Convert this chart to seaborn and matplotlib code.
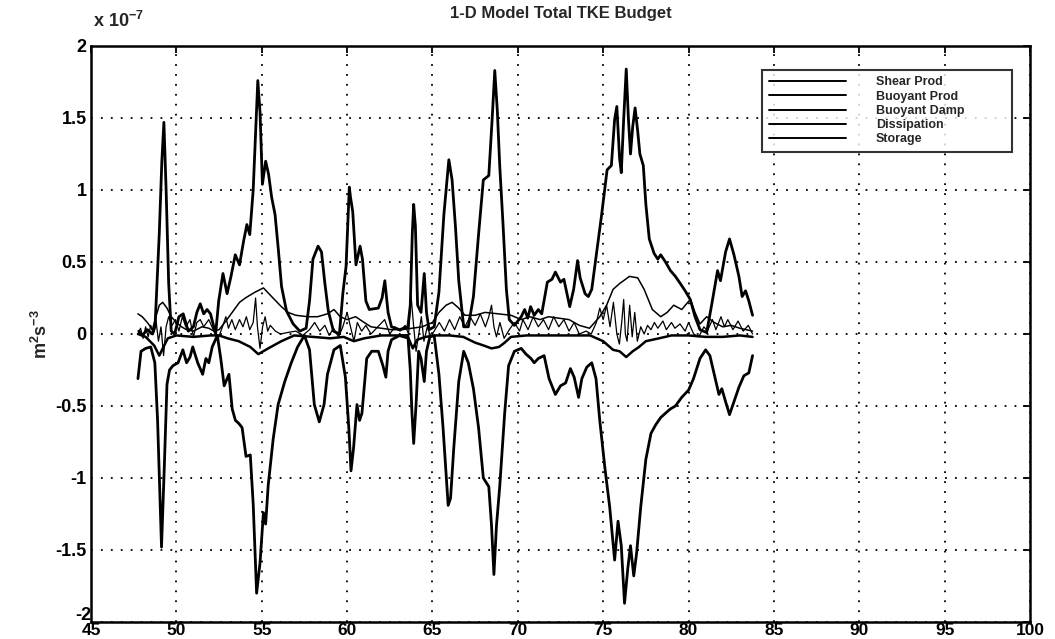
import numpy as np
import pandas as pd
import matplotlib
matplotlib.use("Agg")
import matplotlib.pyplot as plt
import matplotlib.transforms as mtransforms
import seaborn as sns

# Values in units of 1e-7 m^2 s^-3, time in the x units of the run
shear_x = [47.8, 48.0, 48.3, 48.6, 48.75, 49.0, 49.15, 49.27, 49.4, 49.55, 49.7, 49.9, 50.15, 50.4,
           50.7, 51.0, 51.2, 51.4, 51.6, 51.8, 52.0, 52.3, 52.48, 52.73, 52.97, 53.2, 53.45, 53.7,
           53.93, 54.13, 54.3, 54.5, 54.65, 54.77, 54.9, 55.04, 55.23, 55.4, 55.58, 55.78, 55.97,
           56.16, 56.45, 56.84, 57.23, 57.6, 57.8, 58.0, 58.3, 58.5, 58.7, 58.9, 59.2, 59.55, 59.75,
           59.94, 60.13, 60.2, 60.33, 60.52, 60.76, 60.9, 61.1, 61.3, 61.83, 62.05, 62.21, 62.4,
           62.6, 63.08, 63.56, 63.7, 63.82, 63.9, 64.0, 64.13, 64.33, 64.52, 64.65, 64.8, 65.1,
           65.38, 65.67, 65.96, 66.15, 66.35, 66.54, 66.83, 67.1, 67.4, 67.7, 67.98, 68.3, 68.5,
           68.65, 68.8, 68.94, 69.13, 69.33, 69.5, 69.8, 70.2, 70.4, 70.58, 70.75, 70.96, 71.2,
           71.4, 71.73, 72.0, 72.2, 72.5, 72.7, 73.04, 73.27, 73.5, 73.65, 73.94, 74.13, 74.33,
           74.6, 74.9, 75.23, 75.48, 75.67, 75.8, 75.96, 76.06, 76.2, 76.35, 76.48, 76.6, 76.73,
           76.87, 77.02, 77.15, 77.35, 77.5, 77.7, 77.98, 78.2, 78.37, 78.65, 78.94, 79.23, 79.52,
           79.8, 80.1, 80.38, 80.67, 81.06, 81.35, 81.7, 81.87, 82.17, 82.4, 82.66, 82.95, 83.14,
           83.34, 83.53, 83.75]
shear_y = [0.02, -0.01, 0.03, 0.0, 0.05, 0.7, 1.2, 1.47, 1.0, 0.35, 0.02, 0.0, 0.12, 0.14,
           0.02, 0.05, 0.15, 0.21, 0.14, 0.17, 0.14, 0.0, 0.23, 0.42, 0.28, 0.4, 0.55, 0.48,
           0.64, 0.76, 0.69, 1.0, 1.42, 1.76, 1.54, 1.04, 1.2, 1.11, 0.95, 0.83, 0.59,
           0.33, 0.16, 0.07, 0.02, 0.04, 0.23, 0.52, 0.61, 0.57, 0.35, 0.16, 0.02, 0.0, 0.28,
           0.47, 1.02, 0.95, 0.85, 0.48, 0.61, 0.52, 0.23, 0.17, 0.18, 0.25, 0.37, 0.15,
           0.05, 0.03, 0.05, 0.2, 0.7, 0.9, 0.75, 0.2, 0.15, 0.42, 0.15, 0.03, 0.05,
           0.29, 0.83, 1.21, 1.07, 0.74, 0.37, 0.05, 0.05, 0.26, 0.69, 1.07, 1.1, 1.5,
           1.83, 1.55, 1.17, 0.77, 0.31, 0.1, 0.06, 0.12, 0.17, 0.11, 0.19, 0.13, 0.17,
           0.14, 0.36, 0.38, 0.43, 0.36, 0.38, 0.19, 0.31, 0.51, 0.39, 0.28, 0.26, 0.31,
           0.55, 0.82, 1.14, 1.17, 1.49, 1.58, 1.22, 1.12, 1.49, 1.84, 1.49, 1.25, 1.44,
           1.57, 1.41, 1.25, 1.17, 0.9, 0.66, 0.56, 0.52, 0.55, 0.5, 0.44, 0.4, 0.35,
           0.3, 0.24, 0.12, 0.03, 0.01, 0.2, 0.44, 0.37, 0.57, 0.66, 0.55, 0.4, 0.26,
           0.3, 0.23, 0.13]

buoy_prod_x = [47.75, 48.0, 48.3, 48.6, 48.8, 49.0, 49.2, 49.45, 49.7, 50.0, 50.3, 50.6, 51.0,
               51.5, 51.9, 52.2, 52.5, 52.9, 53.27, 53.7, 54.04, 54.6, 55.1, 55.58, 56.15,
               56.54, 57.0, 57.7, 58.27, 58.85, 59.23, 59.6, 60.0, 60.5, 61.0, 61.4, 62.0,
               62.6, 63.2, 63.8, 64.4, 65.0, 65.38, 65.8, 66.15, 66.54, 66.9, 67.5, 68.08,
               68.85, 69.6, 70.2, 70.7, 71.3, 71.8, 72.4, 73.0, 73.6, 74.2, 74.8, 75.2, 75.58,
               75.96, 76.54, 77.02, 77.4, 77.88, 78.37, 78.75, 79.13, 79.6, 80.1, 80.38, 80.67,
               81.06, 81.5, 82.0, 82.5, 83.0, 83.75]
buoy_prod_y = [0.14, 0.12, 0.08, 0.03, 0.12, 0.2, 0.22, 0.18, 0.12, 0.08, 0.05, 0.03, 0.02,
               0.05, 0.04, 0.02, 0.03, 0.09, 0.15, 0.22, 0.25, 0.29, 0.32, 0.26, 0.19,
               0.15, 0.13, 0.12, 0.12, 0.14, 0.17, 0.12, 0.1, 0.12, 0.08, 0.05, 0.04,
               0.03, 0.03, 0.04, 0.05, 0.08, 0.15, 0.2, 0.22, 0.18, 0.13, 0.13, 0.15,
               0.14, 0.13, 0.1, 0.12, 0.1, 0.12, 0.11, 0.1, 0.06, 0.04, 0.12, 0.2, 0.31,
               0.35, 0.4, 0.39, 0.31, 0.17, 0.12, 0.15, 0.2, 0.17, 0.24, 0.15, 0.07,
               0.12, 0.08, 0.05, 0.06, 0.04, 0.02]

buoy_damp_x = [47.75, 48.2, 48.7, 49.0, 49.2, 49.5, 50.0, 51.0, 52.0, 52.5, 53.0, 53.65, 54.33,
               54.8, 55.38, 56.15, 56.9, 58.0, 59.0, 59.8, 60.4, 61.0, 62.0, 63.0, 63.6, 63.85,
               64.1, 64.6, 65.2, 66.0, 66.8, 67.5, 68.0, 68.46, 68.9, 69.23, 69.6, 70.5, 71.5,
               72.5, 73.5, 74.23, 75.0, 75.58, 75.96, 76.35, 76.73, 77.1, 77.5, 78.27, 79.0,
               80.0, 81.0, 82.0, 83.0, 83.75]
buoy_damp_y = [0.0, -0.02, -0.08, -0.15, -0.1, -0.03, -0.01, -0.02, -0.01, -0.01, -0.03, -0.05, -0.09,
               -0.14, -0.1, -0.05, -0.01, -0.02, -0.03, -0.02, -0.05, -0.03, -0.01, -0.01, -0.03, -0.1,
               -0.04, -0.02, -0.01, -0.01, -0.02, -0.06, -0.08, -0.1, -0.09, -0.06, -0.02, -0.01, -0.01,
               -0.01, -0.01, -0.01, -0.05, -0.11, -0.12, -0.16, -0.12, -0.09, -0.05, -0.03, -0.01,
               -0.01, -0.02, -0.02, -0.01, -0.02]

dissip_x = [47.75, 47.93, 48.2, 48.5, 48.74, 48.9, 49.13, 49.3, 49.45, 49.6, 49.8, 50.1, 50.38,
            50.6, 50.8, 50.96, 51.25, 51.54, 51.73, 51.9, 52.1, 52.4, 52.6, 52.8, 53.08, 53.27,
            53.46, 53.65, 53.85, 54.08, 54.33, 54.5, 54.7, 54.9, 55.1, 55.23, 55.38, 55.67,
            55.96, 56.35, 56.73, 57.1, 57.5, 57.8, 58.08, 58.37, 58.65, 58.85, 59.23, 59.6,
            59.9, 60.1, 60.23, 60.38, 60.58, 60.73, 60.87, 61.15, 61.44, 61.83, 62.1, 62.27,
            62.4, 62.6, 63.08, 63.56, 63.7, 63.8, 63.9, 64.04, 64.19, 64.33, 64.52, 64.65,
            64.85, 65.1, 65.38, 65.62, 65.92, 66.06, 66.25, 66.54, 66.83, 67.1, 67.4, 67.7,
            67.98, 68.3, 68.46, 68.6, 68.75, 68.94, 69.23, 69.46, 69.8, 70.2, 70.48, 70.77,
            70.96, 71.2, 71.54, 71.83, 72.2, 72.5, 72.8, 73.08, 73.3, 73.56, 73.75, 74.04,
            74.33, 74.58, 74.8, 75.1, 75.38, 75.67, 75.87, 76.06, 76.25, 76.44, 76.6, 76.79,
            76.96, 77.2, 77.5, 77.8, 78.08, 78.37, 78.65, 78.94, 79.23, 79.6, 80.0, 80.29,
            80.67, 81.0, 81.25, 81.6, 81.78, 81.95, 82.17, 82.4, 82.66, 82.95, 83.24, 83.53,
            83.75]
dissip_y = [-0.31, -0.12, -0.1, -0.09, -0.2, -0.6, -1.48, -0.9, -0.35, -0.25, -0.22, -0.2, -0.11,
            -0.2, -0.16, -0.09, -0.2, -0.28, -0.17, -0.2, -0.09, -0.01, -0.17, -0.36, -0.28, -0.52,
            -0.6, -0.62, -0.65, -0.85, -0.84, -1.18, -1.8, -1.59, -1.24, -1.32, -1.05, -0.73,
            -0.49, -0.33, -0.2, -0.09, -0.01, -0.11, -0.49, -0.61, -0.49, -0.28, -0.11, -0.08,
            -0.3, -0.65, -0.95, -0.79, -0.49, -0.6, -0.55, -0.17, -0.12, -0.12, -0.22, -0.3,
            -0.12, -0.04, -0.01, -0.01, -0.25, -0.55, -0.76, -0.49, -0.12, -0.17, -0.33, -0.12,
            -0.02, -0.01, -0.28, -0.65, -1.19, -1.14, -0.79, -0.33, -0.12, -0.2, -0.38, -0.65,
            -1.0, -1.06, -1.33, -1.67, -1.33, -1.06, -0.55, -0.22, -0.12, -0.1, -0.14, -0.17,
            -0.2, -0.17, -0.15, -0.31, -0.42, -0.36, -0.34, -0.24, -0.3, -0.44, -0.31, -0.23,
            -0.2, -0.31, -0.6, -0.93, -1.2, -1.57, -1.3, -1.47, -1.87, -1.63, -1.47, -1.68,
            -1.52, -1.2, -0.87, -0.69, -0.63, -0.58, -0.55, -0.52, -0.5, -0.44, -0.39, -0.31,
            -0.17, -0.11, -0.15, -0.33, -0.42, -0.38, -0.47, -0.56, -0.47, -0.37, -0.29, -0.27,
            -0.15]

storage_x = [47.75, 47.9, 48.05, 48.2, 48.35, 48.5, 48.65, 48.8, 48.95, 49.1, 49.25, 49.4, 49.55,
             49.75, 49.95, 50.15, 50.35, 50.55, 50.8, 51.0, 51.2, 51.4, 51.6, 51.9, 52.2, 52.45,
             52.7, 52.9, 53.05, 53.25, 53.45, 53.7, 53.9, 54.1, 54.3, 54.5, 54.64, 54.75, 54.9,
             55.05, 55.2, 55.35, 55.5, 55.8, 56.1, 56.5, 57.0, 57.4, 57.8, 58.1, 58.4, 58.7,
             58.95, 59.2, 59.5, 59.75, 60.0, 60.2, 60.4, 60.6, 60.85, 61.1, 61.4, 61.8, 62.2,
             62.5, 62.8, 63.1, 63.4, 63.6, 63.75, 63.9, 64.04, 64.2, 64.35, 64.5, 64.7, 64.9,
             65.1, 65.4, 65.7, 66.0, 66.3, 66.6, 66.9, 67.2, 67.5, 67.8, 68.1, 68.3, 68.46,
             68.6, 68.75, 68.95, 69.2, 69.5, 69.8, 70.1, 70.3, 70.6, 70.9, 71.2, 71.5, 71.8,
             72.1, 72.4, 72.7, 73.0, 73.3, 73.6, 74.0, 74.3, 74.6, 74.8, 75.0, 75.2, 75.4,
             75.6, 75.8, 75.95, 76.1, 76.2, 76.3, 76.4, 76.55, 76.7, 76.85, 77.0, 77.2, 77.4,
             77.6, 77.8, 78.0, 78.2, 78.5, 78.7, 79.0, 79.2, 79.5, 79.8, 80.0, 80.3, 80.6,
             80.9, 81.1, 81.4, 81.6, 81.9, 82.1, 82.3, 82.6, 82.9, 83.2, 83.5, 83.75]
storage_y = [0.0, 0.04, -0.03, 0.05, -0.02, 0.06, 0.0, 0.1, -0.05, 0.05, -0.15, 0.05, 0.12,
             0.06, 0.1, 0.02, 0.12, 0.05, 0.1, -0.02, 0.08, 0.1, 0.05, 0.1, 0.02, -0.03,
             0.05, 0.12, 0.04, 0.1, 0.03, 0.1, 0.05, 0.12, 0.03, 0.08, 0.25, 0.05, -0.1,
             0.05, 0.12, 0.02, 0.06, 0.02, 0.0, 0.01, 0.02, -0.01, 0.03, 0.08, 0.02, 0.06,
             -0.01, 0.04, -0.02, 0.05, 0.15, 0.05, -0.05, 0.08, 0.02, 0.06, 0.0, 0.05, 0.1,
             0.0, 0.05, 0.02, 0.06, 0.0, 0.26, 0.05, -0.12, 0.0, 0.12, -0.05, 0.05, -0.02,
             0.02, 0.08, 0.02, 0.1, 0.03, 0.12, 0.05, 0.12, 0.06, 0.14, 0.05, 0.12, 0.2,
             0.05, -0.02, 0.08, -0.03, 0.03, 0.08, 0.02, 0.1, 0.03, 0.12, 0.05, 0.1, 0.03,
             0.12, 0.05, 0.1, 0.02, 0.08, 0.0, 0.02, 0.0, 0.08, 0.18, 0.1, 0.2, 0.05,
             0.22, 0.0, -0.07, 0.1, 0.24, 0.0, -0.05, 0.2, -0.02, 0.15, -0.05, 0.05, 0.0,
             0.06, 0.03, 0.08, 0.04, 0.09, 0.03, 0.08, 0.04, 0.07, 0.02, 0.08, 0.0, -0.02,
             0.05, 0.02, 0.1, 0.03, 0.12, 0.05, 0.1, 0.03, 0.09, 0.02, 0.06, 0.0]

series_names = ["Shear Prod", "Buoyant Prod", "Buoyant Damp", "Dissipation", "Storage"]
x_ticks = [45, 50, 55, 60, 65, 70, 75, 80, 85, 90, 95, 100]
y_ticks = [-2, -1.5, -1, -0.5, 0, 0.5, 1, 1.5, 2]
y_tick_labels = ["-2", "-1.5", "-1", "-0.5", "0", "0.5", "1", "1.5", "2"]

sns.set_style("white")
plt.rcParams["font.family"] = ["Liberation Sans", "DejaVu Sans"]
plt.rcParams["mathtext.default"] = "regular"

fig = plt.figure(figsize=(10.55, 6.39), dpi=100)
ax = fig.add_axes([91 / 1055, 17 / 639, 939 / 1055, 576 / 639])

curves = [
    (shear_x, shear_y, 2.0),
    (buoy_prod_x, buoy_prod_y, 1.1),
    (buoy_damp_x, buoy_damp_y, 1.8),
    (dissip_x, dissip_y, 2.0),
    (storage_x, storage_y, 0.9),
]
for name, (xs, ys, lw) in zip(series_names, curves):
    df = pd.DataFrame({"t": xs, "v": ys})
    sns.lineplot(data=df, x="t", y="v", ax=ax, color="black", linewidth=lw,
                 label=name, sort=False, estimator=None, zorder=3)

ax.set_xlim(45, 100)
ax.set_ylim(-2, 2)
ax.set_xticks(x_ticks)
ax.set_xticklabels([str(t) for t in x_ticks])
ax.set_yticks(y_ticks)
ax.set_yticklabels(y_tick_labels)
ax.set_xlabel("")
ax.set_ylabel("m$^2$s$^{-3}$", fontsize=13, fontweight="bold", labelpad=0)
ax.yaxis.set_label_coords(-0.043, 0.5)

ax.grid(True, color="black", linestyle=(0, (1, 4.5)), linewidth=1.3, zorder=1)
ax.set_axisbelow(True)
ax.tick_params(direction="in", length=5, width=1.3, top=True, right=True,
               labelsize=13, pad=3, colors="black")
ax.tick_params(axis="x", pad=0.5, labelsize=12.5)
for lab in ax.get_xticklabels() + ax.get_yticklabels():
    lab.set_fontweight("bold")
# nudge the bottom y label up so it clears the first x label
lift = mtransforms.ScaledTranslation(0, 8 / 100, fig.dpi_scale_trans)
ax.get_yticklabels()[0].set_transform(ax.get_yaxis_transform(which="tick1") + lift)
for sp in ax.spines.values():
    sp.set_visible(True)
    sp.set_color("black")
    sp.set_linewidth(1.8)

ax.set_title("1-D Model Total TKE Budget", fontsize=12, fontweight="bold", pad=20)
ax.text(0.002, 1.033, "x 10$^{-7}$", transform=ax.transAxes, fontsize=13,
        fontweight="bold", ha="left", va="baseline")

leg = ax.legend(loc="upper left", bbox_to_anchor=(0.715, 0.814, 0.266, 0.144),
                mode="expand", ncol=1, frameon=True, fancybox=False, shadow=False,
                fontsize=9, handlelength=6.2, handletextpad=2.4, labelspacing=0.18,
                borderpad=0.5, borderaxespad=0)
leg.get_frame().set_edgecolor("black")
leg.get_frame().set_linewidth(1.5)
for txt in leg.get_texts():
    txt.set_fontweight("bold")
for h in leg.get_lines():
    h.set_linewidth(1.4)

fig.savefig("out.png", dpi=100)
